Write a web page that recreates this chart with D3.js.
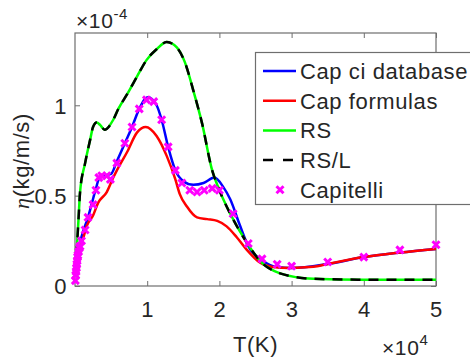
<!DOCTYPE html>
<html><head><meta charset="utf-8">
<script src="https://cdn.jsdelivr.net/npm/d3@7"></script>
<style>
body{margin:0;background:#fff;}
text{font-family:"Liberation Sans",Arial,sans-serif;fill:#262626;letter-spacing:0.6px;}
</style></head>
<body><svg id="c" width="470" height="359"></svg>
<script>
// T in units of 1e4 K, eta in units of 1e-4 kg/m/s
const xTicks = [1, 2, 3, 4, 5];
const yTicks = [0, 0.5, 1];
const yTickLabels = ["0", "0.5", "1"];

const rsT   = [0.02,0.05,0.07,0.14,0.21,0.25,0.30,0.35,0.41,0.53,0.60,0.72,0.86,0.99,1.13,1.27,1.41,1.52,1.64,1.76,1.90,1.98,2.15,2.38,2.56,2.84,3.3,4.0,5.0];
const rsEta = [0.17,0.38,0.52,0.68,0.81,0.88,0.905,0.89,0.865,0.92,0.98,1.06,1.16,1.25,1.31,1.35,1.32,1.24,1.08,0.90,0.64,0.55,0.40,0.24,0.14,0.07,0.04,0.035,0.035];

const capDbT   = [0.03,0.11,0.18,0.235,0.29,0.33,0.40,0.50,0.58,0.69,0.79,0.89,1.01,1.13,1.20,1.29,1.39,1.50,1.64,1.78,1.93,2.05,2.15,2.28,2.40,2.60,2.80,3.0,3.5,4.0,4.5,5.0];
const capDbEta = [0.18,0.30,0.38,0.46,0.54,0.59,0.61,0.62,0.69,0.79,0.88,0.98,1.045,1.0,0.92,0.77,0.64,0.58,0.56,0.57,0.60,0.55,0.48,0.34,0.22,0.14,0.105,0.10,0.122,0.16,0.185,0.205];

const capFT   = [0.03,0.07,0.11,0.16,0.25,0.32,0.44,0.53,0.58,0.72,0.86,0.98,1.13,1.27,1.39,1.45,1.55,1.69,1.83,1.97,2.10,2.24,2.38,2.56,2.74,2.98,3.3,3.5,4.0,4.5,5.0];
const capFEta = [0.18,0.22,0.26,0.33,0.39,0.46,0.52,0.60,0.64,0.74,0.85,0.88,0.83,0.72,0.59,0.51,0.44,0.38,0.37,0.36,0.33,0.27,0.20,0.13,0.105,0.10,0.106,0.122,0.16,0.185,0.205];

const capitelliT   = [0.005,0.01,0.015,0.02,0.025,0.03,0.035,0.04,0.05,0.06,0.07,0.09,0.14,0.18,0.25,0.29,0.33,0.37,0.44,0.49,0.58,0.69,0.79,0.89,0.99,1.09,1.2,1.29,1.39,1.48,1.59,1.69,1.79,1.9,2.0,2.19,2.4,2.59,2.8,3.0,3.5,4.0,4.5,5.0];
const capitelliEta = [0.03,0.06,0.08,0.10,0.12,0.14,0.16,0.17,0.19,0.21,0.22,0.25,0.31,0.38,0.45,0.53,0.60,0.61,0.61,0.59,0.68,0.79,0.88,0.98,1.03,1.02,0.92,0.77,0.64,0.57,0.53,0.52,0.53,0.54,0.53,0.40,0.235,0.15,0.12,0.11,0.133,0.16,0.2,0.228];

const legendLabels = ["Cap ci database","Cap formulas","RS","RS/L","Capitelli"];

const svg = d3.select("#c");
const L = 75, R = 436, T = 33, B = 286;
const x = d3.scaleLinear().domain([0, 5]).range([L, R]);
const y = d3.scaleLinear().domain([0, 1.4]).range([B, T]);
const FS = 22;

svg.append("rect").attr("width",470).attr("height",359).attr("fill","#fff");

const axisColor = "#6e6e6e";
svg.append("rect").attr("x",L).attr("y",T).attr("width",R-L).attr("height",B-T)
  .attr("fill","none").attr("stroke",axisColor).attr("stroke-width",1.2);

const xAxisB = d3.axisBottom(x).tickValues(xTicks).tickSizeInner(-5).tickSizeOuter(0).tickFormat(d3.format("d"));
const gx = svg.append("g").attr("transform",`translate(0,${B})`).call(xAxisB);
const xAxisT = d3.axisTop(x).tickValues(xTicks).tickSizeInner(-5).tickSizeOuter(0).tickFormat("");
const gxt = svg.append("g").attr("transform",`translate(0,${T})`).call(xAxisT);
const yAxisL = d3.axisLeft(y).tickValues(yTicks).tickSizeInner(-5).tickSizeOuter(0).tickFormat((d,i)=>yTickLabels[i]).tickPadding(8);
const gy = svg.append("g").attr("transform",`translate(${L},0)`).call(yAxisL);
const yAxisR = d3.axisRight(y).tickValues(yTicks).tickSizeInner(-5).tickSizeOuter(0).tickFormat("");
const gyr = svg.append("g").attr("transform",`translate(${R},0)`).call(yAxisR);
[gx,gxt,gy,gyr].forEach(g=>{
  g.select(".domain").remove();
  g.selectAll("line").attr("stroke",axisColor);
  g.selectAll("text").attr("font-size",FS).attr("fill","#262626")
    .attr("font-family","'Liberation Sans',Arial,sans-serif");
});
gx.selectAll("text").attr("dy",null).attr("y",31);
gy.selectAll("text").attr("dy","0.36em");

const line = (X,Y)=>d3.line().x((d,i)=>x(X[i])).y((d,i)=>y(Y[i])).curve(d3.curveMonotoneX)(X);
const plot = svg.append("g");
plot.append("path").attr("d",line(capDbT,capDbEta)).attr("fill","none").attr("stroke","#0000ff").attr("stroke-width",2.5);
plot.append("path").attr("d",line(capFT,capFEta)).attr("fill","none").attr("stroke","#ff0000").attr("stroke-width",2.5);
plot.append("path").attr("d",line(rsT,rsEta)).attr("fill","none").attr("stroke","#00ff00").attr("stroke-width",2.5);
plot.append("path").attr("d",line(rsT,rsEta)).attr("fill","none").attr("stroke","#000").attr("stroke-width",2.5).attr("stroke-dasharray","10,8");

const cross = (g,cx,cy)=>{
  const s=3.5;
  g.append("path").attr("d",`M${cx-s},${cy-s}L${cx+s},${cy+s}M${cx-s},${cy+s}L${cx+s},${cy-s}`)
   .attr("stroke","#ff00ff").attr("stroke-width",3).attr("fill","none");
};
const mk = plot.append("g");
capitelliT.forEach((t,i)=>cross(mk,x(t),y(capitelliEta[i])));

// legend
const lg = svg.append("g");
lg.append("rect").attr("x",255.5).attr("y",52.5).attr("width",230).attr("height",152)
  .attr("fill","#fff").attr("stroke",axisColor).attr("stroke-width",1.2);
const rowY = i => 71 + i*29.7;
const styles = [
  {c:"#0000ff"},{c:"#ff0000"},{c:"#00ff00"},{c:"#000",dash:"10,10"},{m:true}
];
legendLabels.forEach((lab,i)=>{
  const yy = rowY(i);
  const s = styles[i];
  if (s.m) cross(lg,280,yy);
  else lg.append("line").attr("x1",263).attr("x2",296).attr("y1",yy).attr("y2",yy)
    .attr("stroke",s.c).attr("stroke-width",2.5).attr("stroke-dasharray",s.dash||null);
  lg.append("text").attr("x",300).attr("y",yy).attr("dy","0.36em").attr("font-size",FS).text(lab);
});

// axis labels
svg.append("text").attr("x",(L+R)/2).attr("y",352).attr("text-anchor","middle").attr("font-size",FS).text("T(K)");
const yl = svg.append("text").attr("transform","translate(29,161) rotate(-90)").attr("text-anchor","middle").attr("font-size",FS);
yl.append("tspan").attr("font-family","'Liberation Serif',serif").attr("font-style","italic").text("η");
yl.append("tspan").text("(kg/m/s)");

// exponent labels
const e1 = svg.append("text").attr("x",76).attr("y",28).attr("font-size",21);
e1.append("tspan").text("×10");
e1.append("tspan").attr("font-size",15).attr("dy",-9).text("-4");
const e2 = svg.append("text").attr("x",382).attr("y",355).attr("font-size",21);
e2.append("tspan").text("×10");
e2.append("tspan").attr("font-size",15).attr("dy",-10).text("4");
</script></body></html>
